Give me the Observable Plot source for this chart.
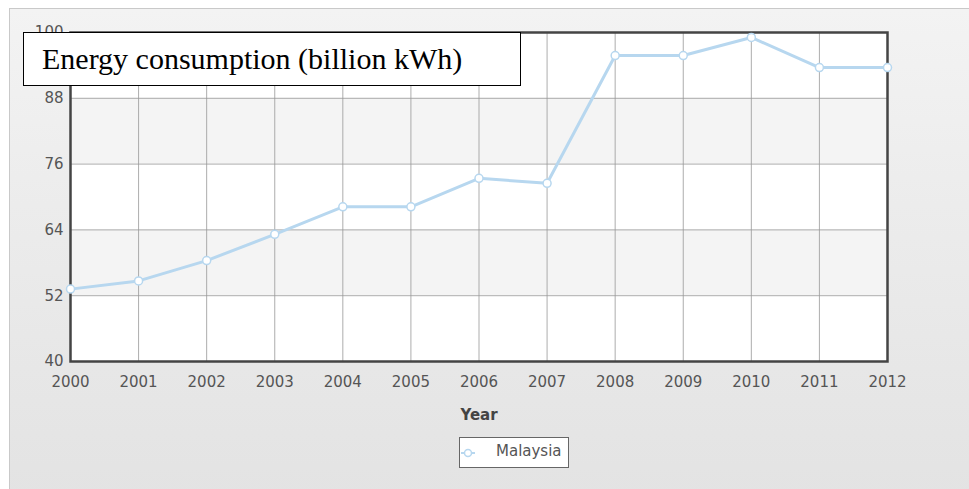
<!DOCTYPE html>
<html>
<head>
<meta charset="utf-8">
<script src="https://cdn.jsdelivr.net/npm/d3@7"></script>
<script src="https://cdn.jsdelivr.net/npm/@observablehq/plot@0.6"></script>
<style>
  html, body { margin: 0; padding: 0; background: #fff; }
  #wrap { position: relative; width: 969px; height: 489px; overflow: hidden; }
  #panel { position: absolute; left: 9px; top: 8px; width: 970px; height: 490px;
    border-left: 1px solid #c9c9c9; border-top: 1px solid #c9c9c9;
    background: linear-gradient(#f3f3f3, #ececec 40%, #e3e3e3); }
  #chart { position: absolute; left: 0; top: 0; }
  #title { position: absolute; left: 23px; top: 32px; width: 478px; height: 52px;
    border: 1.5px solid #000; background: #fff; box-sizing: content-box;
    font-family: "Liberation Serif", "Times New Roman", serif; font-size: 30px;
    line-height: 52px; padding-left: 18px; color: #000; white-space: nowrap; }
  #legend { position: absolute; left: 459px; top: 437px; width: 108px; height: 29px;
    border: 1px solid #666; background: #fff; }
  #legend svg { position: absolute; left: 0; top: 0; }
  #legend span { position: absolute; left: 36px; top: 4px; font-family: "DejaVu Sans", Verdana, sans-serif;
    font-size: 15px; color: #555; }
</style>
</head>
<body>
<div id="wrap">
  <div id="panel"></div>
  <div id="chart"></div>
  <div id="title">Energy consumption (billion kWh)</div>
  <div id="legend">
    <svg width="30" height="29"><line x1="1" x2="15" y1="15" y2="15" stroke="#b7d7ef" stroke-width="2"/><circle cx="8" cy="15" r="3.5" fill="#fff" stroke="#b7d7ef" stroke-width="1.5"/></svg>
    <span>Malaysia</span>
  </div>
</div>
<script>
const years = [2000, 2001, 2002, 2003, 2004, 2005, 2006, 2007, 2008, 2009, 2010, 2011, 2012];
const consumption = [53.2, 54.7, 58.4, 63.2, 68.2, 68.2, 73.4, 72.5, 95.8, 95.8, 99.1, 93.6, 93.6];
const yTicks = [40, 52, 64, 76, 88, 100];
const seriesName = "Malaysia";
const xLabel = "Year";

const data = years.map((y, i) => ({year: y, value: consumption[i]}));
const bands = yTicks.slice(0, -1).map((t, i) => ({y1: t, y2: yTicks[i + 1], shaded: i % 2 === 1})).filter(d => d.shaded);

const lineColor = "#b7d7ef";
const font = "DejaVu Sans, Verdana, sans-serif";

const chart = Plot.plot({
  width: 969,
  height: 489,
  marginLeft: 70,
  marginRight: 82,
  marginTop: 32,
  marginBottom: 128,
  style: {background: "transparent", fontFamily: font, fontSize: "15px", color: "#555", overflow: "visible"},
  x: {domain: [years[0], years[years.length - 1]]},
  y: {domain: [yTicks[0], yTicks[yTicks.length - 1]]},
  marks: [
    Plot.frame({fill: "#fff", stroke: null}),
    Plot.rectY(bands, {x1: years[0], x2: years[years.length - 1], y1: "y1", y2: "y2", fill: "#f4f4f4"}),
    Plot.gridY(yTicks, {stroke: "#999", strokeOpacity: 0.8}),
    Plot.gridX(years, {stroke: "#999", strokeOpacity: 0.8}),
    Plot.frame({stroke: "#444", strokeWidth: 2.5}),
    Plot.axisY(yTicks, {tickSize: 0, tickPadding: 7, label: null, fill: "#555", fontSize: 15}),
    Plot.axisX(years, {tickSize: 0, tickPadding: 15, label: null, tickFormat: d => String(d), fill: "#555", fontSize: 15}),
    Plot.text([xLabel], {frameAnchor: "bottom", dy: 54, text: d => d, fontWeight: "bold", fontSize: 15, fill: "#444", lineAnchor: "middle"}),
    Plot.line(data, {x: "year", y: "value", stroke: lineColor, strokeWidth: 3}),
    Plot.dot(data, {x: "year", y: "value", r: 4, fill: "#fff", stroke: lineColor, strokeWidth: 1.5})
  ]
});
document.getElementById("chart").appendChild(chart);
</script>
</body>
</html>
